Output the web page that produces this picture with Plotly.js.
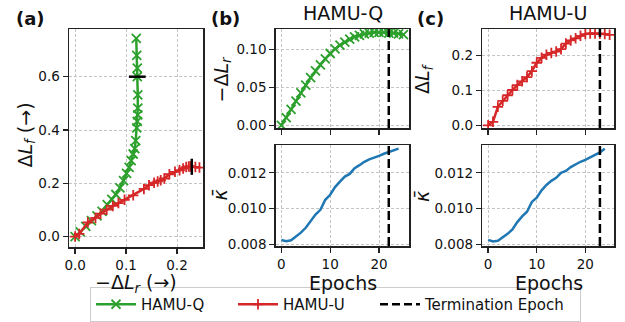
<!DOCTYPE html>
<html>
<head>
<meta charset="utf-8">
<script src="https://cdn.plot.ly/plotly-3.0.1.min.js"></script>
<style>html,body{margin:0;padding:0;background:#fff;} #chart{width:625px;height:322px;}</style>
</head>
<body>
<div id="chart"></div>
<script>
// ---------- data ----------
const epochs = [0,1,2,3,4,5,6,7,8,9,10,11,12,13,14,15,16,17,18,19,20,21,22,23,24,25];
const kappaEpochs = [0,1,2,3,4,5,6,7,8,9,10,11,12,13,14,15,16,17,18,19,20,21,22,23,24];

// HAMU-Q
const negLrQ = [0.000,0.010,0.021,0.032,0.043,0.053,0.063,0.072,0.080,0.088,0.095,0.101,0.106,0.110,0.114,0.117,0.119,0.121,0.122,0.123,0.123,0.123,0.122,0.122,0.121,0.120];
const dLfQ   = [0.000,0.018,0.038,0.060,0.078,0.095,0.120,0.140,0.158,0.183,0.210,0.237,0.260,0.285,0.310,0.330,0.360,0.408,0.432,0.457,0.482,0.532,0.600,0.632,0.680,0.744];
const kappaQ = [0.00824,0.00817,0.00822,0.00843,0.00865,0.00892,0.00931,0.00966,0.00993,0.01049,0.01077,0.01120,0.01151,0.01179,0.01194,0.01226,0.01243,0.01262,0.01275,0.01284,0.01295,0.01307,0.01316,0.01325,0.01336];
const termQ = 22;

// HAMU-U
const negLrU = [0.000,0.008,0.025,0.040,0.050,0.062,0.074,0.085,0.097,0.114,0.135,0.145,0.155,0.162,0.168,0.175,0.185,0.196,0.205,0.212,0.218,0.223,0.226,0.229,0.236,0.244];
const dLfU   = [0.000,0.010,0.053,0.070,0.086,0.101,0.115,0.126,0.138,0.155,0.179,0.193,0.202,0.207,0.211,0.218,0.234,0.243,0.249,0.256,0.261,0.263,0.263,0.262,0.261,0.259];
const kappaU = [0.00824,0.00815,0.00819,0.00836,0.00858,0.00883,0.00924,0.00956,0.00982,0.01037,0.01061,0.01102,0.01132,0.01155,0.01172,0.01200,0.01211,0.01232,0.01249,0.01262,0.01273,0.01286,0.01301,0.01315,0.01335];
const termU = 23;

const names = ["HAMU-Q", "HAMU-U", "Termination Epoch"];
const panelLabels = ["(a)", "(b)", "(c)"];
const axisTitles = {
  negLr: "−Δ<i>L</i><sub><i>r</i></sub>",
  dLf: "Δ<i>L</i><sub><i>f</i></sub>",
  kappa: "<i>κ̄</i>",
  epochs: "Epochs",
  arrowR: " (→)",
  arrowU: " (→)"
};

// ---------- style ----------
const GREEN = "#2ca02c", RED = "#d62728", BLUE = "#1f77b4";
const W = 625, H = 322;
const px = v => v / W, py = v => 1 - v / H;
const FONT = "DejaVu Sans";
const TXT = "#111";

const qLine = {color: GREEN, width: 2.5};
const uLine = {color: RED, width: 2.5};
const qMarker = {symbol: "x-thin", size: 9, line: {color: GREEN, width: 1.8}, color: GREEN};
const uMarker = {symbol: "cross-thin", size: 7.5, line: {color: RED, width: 1.8}, color: RED};

const traces = [
  {x: negLrQ, y: dLfQ, xaxis: "x", yaxis: "y", mode: "lines+markers", name: names[0], line: qLine, marker: qMarker, showlegend: true},
  {x: negLrU, y: dLfU, xaxis: "x", yaxis: "y", mode: "lines+markers", name: names[1], line: uLine, marker: uMarker, showlegend: true},
  {x: [negLrQ[termQ]], y: [dLfQ[termQ]], xaxis: "x", yaxis: "y", mode: "markers", showlegend: false,
   marker: {symbol: "line-ew", size: 12, line: {color: "black", width: 2.5}}},
  {x: [negLrU[termU]], y: [dLfU[termU]], xaxis: "x", yaxis: "y", mode: "markers", showlegend: false,
   marker: {symbol: "line-ns", size: 11.5, line: {color: "black", width: 2.5}}},
  {x: epochs, y: negLrQ, xaxis: "x2", yaxis: "y2", mode: "lines+markers", line: qLine, marker: qMarker, showlegend: false},
  {x: kappaEpochs, y: kappaQ, xaxis: "x3", yaxis: "y3", mode: "lines", line: {color: BLUE, width: 2.5}, showlegend: false},
  {x: epochs, y: dLfU, xaxis: "x4", yaxis: "y4", mode: "lines+markers", line: uLine, marker: uMarker, showlegend: false},
  {x: kappaEpochs, y: kappaU, xaxis: "x5", yaxis: "y5", mode: "lines", line: {color: BLUE, width: 2.5}, showlegend: false},
  {x: [null], y: [null], xaxis: "x", yaxis: "y", mode: "lines", name: names[2], line: {color: "black", width: 2.5, dash: "8px,4px"}, showlegend: true, legendwidth: 150}
];

const baseAxis = {
  showline: true, mirror: true, linecolor: "#222", linewidth: 1.5,
  ticks: "outside", ticklen: 5, tickwidth: 1.3, tickcolor: "#222",
  showgrid: true, gridcolor: "#c4c4c4", gridwidth: 1, griddash: "3px,2px",
  zeroline: false, tickfont: {family: FONT, size: 13.5, color: TXT}
};
function ax(o) { return Object.assign(JSON.parse(JSON.stringify(baseAxis)), o); }

const xDomA = [px(69), px(203)];
const xDomB = [px(275.7), px(409.3)];
const xDomC = [px(482.3), px(614)];
const yDomTop = [py(128), py(29)];
const yDomBot = [py(246), py(145)];
const yDomA = [py(247), py(29)];

const epochRangeB = [-1.15, 26.2];
const epochRangeC = [-1.2, 25.9];

function note(text, x, y, size, angle, bold) {
  return {text: bold ? "<b>" + text + "</b>" : text, xref: "paper", yref: "paper", x: px(x), y: py(y),
    showarrow: false, xanchor: "center", yanchor: "middle", textangle: angle || 0,
    font: {family: FONT, size: size, color: TXT}};
}

const layout = {
  width: W, height: H,
  margin: {l: 0, r: 0, t: 0, b: 0, autoexpand: false},
  paper_bgcolor: "white", plot_bgcolor: "white",
  font: {family: FONT, color: TXT},
  xaxis: ax({domain: xDomA, anchor: "y", range: [-0.012, 0.251], tickvals: [0, 0.1, 0.2], tickformat: ".1f"}),
  yaxis: ax({domain: yDomA, anchor: "x", range: [-0.039, 0.779], tickvals: [0, 0.2, 0.4, 0.6], tickformat: ".1f"}),
  xaxis2: ax({domain: xDomB, anchor: "y2", range: epochRangeB, tickvals: [0, 10, 20], showticklabels: false}),
  yaxis2: ax({domain: yDomTop, anchor: "x2", range: [-0.0036, 0.1274], tickvals: [0, 0.05, 0.10], tickformat: ".2f"}),
  xaxis3: ax({domain: xDomB, anchor: "y3", range: epochRangeB, tickvals: [0, 10, 20]}),
  yaxis3: ax({domain: yDomBot, anchor: "x3", range: [0.0079, 0.01356], tickvals: [0.008, 0.010, 0.012], tickformat: ".3f"}),
  xaxis4: ax({domain: xDomC, anchor: "y4", range: epochRangeC, tickvals: [0, 10, 20], showticklabels: false}),
  yaxis4: ax({domain: yDomTop, anchor: "x4", range: [-0.0077, 0.2756], tickvals: [0, 0.1, 0.2], tickformat: ".1f"}),
  xaxis5: ax({domain: xDomC, anchor: "y5", range: epochRangeC, tickvals: [0, 10, 20]}),
  yaxis5: ax({domain: yDomBot, anchor: "x5", range: [0.0079, 0.01356], tickvals: [0.008, 0.010, 0.012], tickformat: ".3f"}),
  shapes: [
    {type: "line", xref: "x2", yref: "y2 domain", x0: termQ, x1: termQ, y0: 0, y1: 1, line: {color: "black", width: 2.5, dash: "9px,4px"}},
    {type: "line", xref: "x3", yref: "y3 domain", x0: termQ, x1: termQ, y0: 0, y1: 1, line: {color: "black", width: 2.5, dash: "9px,4px"}},
    {type: "line", xref: "x4", yref: "y4 domain", x0: termU, x1: termU, y0: 0, y1: 1, line: {color: "black", width: 2.5, dash: "9px,4px"}},
    {type: "line", xref: "x5", yref: "y5 domain", x0: termU, x1: termU, y0: 0, y1: 1, line: {color: "black", width: 2.5, dash: "9px,4px"}}
  ],
  annotations: [
    note(panelLabels[0], 30.5, 18, 18, 0, true),
    note(panelLabels[1], 225.5, 18, 18, 0, true),
    note(panelLabels[2], 430.5, 18, 18, 0, true),
    note(names[0], 342.5, 13.5, 19, 0, false),
    note(names[1], 548, 13.5, 19, 0, false),
    // axis titles
    note(axisTitles.dLf + axisTitles.arrowU, 25.5, 135, 19, -90, false),
    note(axisTitles.negLr + axisTitles.arrowR, 136, 283, 19, 0, false),
    note(axisTitles.negLr, 222, 79.5, 19, -90, false),
    note(axisTitles.kappa, 219.5, 195, 19, -90, false),
    note(axisTitles.epochs, 343, 283, 19, 0, false),
    note(axisTitles.dLf, 424, 79, 19, -90, false),
    note(axisTitles.kappa, 422, 196, 19, -90, false),
    note(axisTitles.epochs, 548.5, 283, 19, 0, false)
  ],
  legend: {
    orientation: "h", x: px(90), y: 0, xanchor: "left", yanchor: "bottom",
    bordercolor: "#cccccc", borderwidth: 1, bgcolor: "white",
    font: {family: FONT, size: 15, color: TXT},
    itemwidth: 40, entrywidth: 87, entrywidthmode: "pixels", traceorder: "normal"
  }
};

Plotly.newPlot("chart", traces, layout, {displayModeBar: false, staticPlot: true});
</script>
</body>
</html>
